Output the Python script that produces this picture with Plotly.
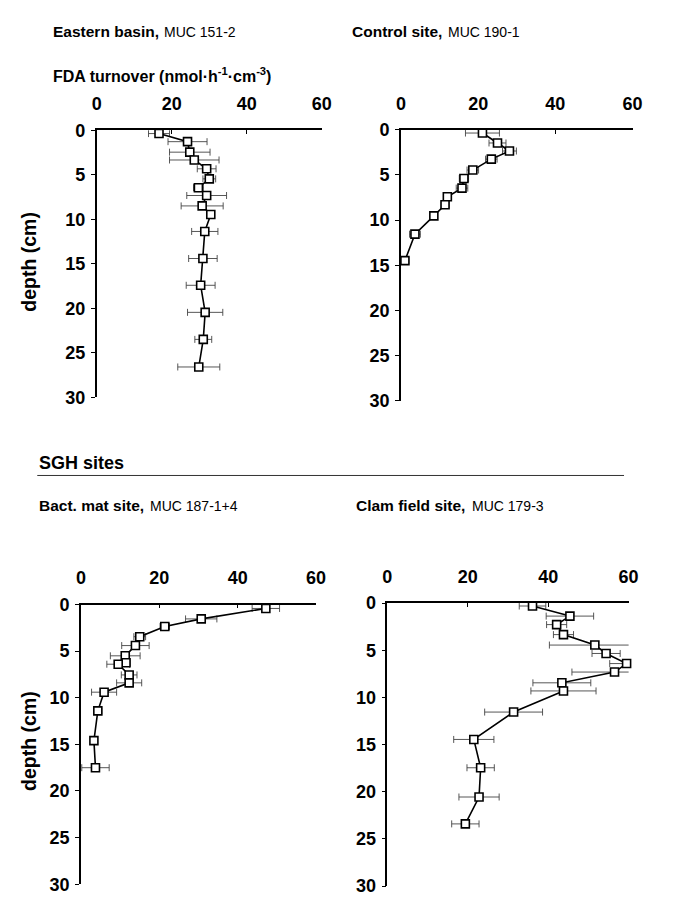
import plotly.graph_objects as go

W, H = 679, 904

# ---------------- data ----------------
depth_eb = [0.37, 1.28, 2.46, 3.34, 4.33, 5.46, 6.45, 7.33, 8.5, 9.46, 11.37, 14.41, 17.42, 20.46, 23.5, 26.6]
fda_eb = [16.6, 24.2, 24.8, 26.0, 29.3, 30.0, 27.1, 29.3, 28.1, 30.4, 28.8, 28.3, 27.7, 28.9, 28.4, 27.2]
err_eb = [2.8, 5.2, 5.4, 6.6, 2.5, 1.7, 1.3, 5.3, 5.6, 1.0, 3.5, 3.8, 3.85, 4.7, 2.25, 5.6]

depth_cs = [0.36, 1.46, 2.35, 3.25, 4.46, 5.39, 6.46, 7.42, 8.31, 9.53, 11.56, 14.49]
fda_cs = [21.1, 25.0, 28.1, 23.4, 18.6, 16.3, 15.8, 12.0, 11.4, 8.5, 3.6, 1.0]
err_cs = [4.4, 2.2, 1.8, 1.5, 1.5, 1.2, 1.5, 1.0, 1.0, 0.8, 1.4, 1.0]

depth_bm = [0.42, 1.54, 2.35, 3.45, 4.4, 5.5, 6.25, 6.4, 7.55, 8.4, 9.4, 11.4, 14.6, 17.5]
fda_bm = [47.2, 30.7, 21.4, 15.0, 13.9, 11.3, 11.5, 9.5, 12.3, 12.3, 5.9, 4.3, 3.3, 3.7]
err_bm = [3.5, 4.0, 1.2, 1.5, 3.5, 3.8, 1.0, 2.9, 2.0, 3.2, 3.2, 1.0, 0.8, 3.5]

depth_cf = [0.31, 1.38, 2.28, 3.34, 4.45, 5.34, 6.41, 7.31, 8.45, 9.31, 11.55, 14.45, 17.45, 20.55, 23.4]
fda_cf = [36.1, 45.4, 42.1, 43.8, 51.6, 54.4, 59.5, 56.5, 43.4, 43.8, 31.4, 21.5, 23.2, 22.8, 19.4]
err_cf = [3.3, 5.9, 2.5, 2.5, 11.3, 3.5, 4.2, 10.6, 7.2, 8.1, 7.2, 5.0, 3.4, 5.0, 3.4]

x_ticks = [0, 20, 40, 60]
y_ticks = [0, 5, 10, 15, 20, 25, 30]

site_names = ["Eastern basin,", "Control site,", "Bact. mat site,", "Clam field site,"]
core_ids = ["MUC 151-2", "MUC 190-1", "MUC 187-1+4", "MUC 179-3"]

# ---------------- layout helpers ----------------
# panel pixel boxes: (x0, x1, ytop, ybottom)
panels = [
    (93.8, 324.0, 123.0, 396.0),
    (405.0, 641.7, 122.5, 399.5),
    (77.7, 318.0, 608.0, 894.0),
    (391.0, 637.7, 606.5, 896.0),
]
series = [
    (fda_eb, depth_eb, err_eb),
    (fda_cs, depth_cs, err_cs),
    (fda_bm, depth_bm, err_bm),
    (fda_cf, depth_cf, err_cf),
]

FONT = "Liberation Sans, Arial, Helvetica, sans-serif"

fig = go.Figure()
layout = {}
for i, ((x0, x1, yt, yb), (xs, ys, es)) in enumerate(zip(panels, series), start=1):
    sfx = "" if i == 1 else str(i)
    fig.add_trace(go.Scatter(
        x=xs, y=ys, mode="lines+markers",
        xaxis="x" + sfx, yaxis="y" + sfx,
        line=dict(color="black", width=1.6),
        marker=dict(symbol="square", size=8, color="white",
                    line=dict(color="black", width=1.6)),
        error_x=dict(type="data", array=es, visible=True,
                     color="#444444", thickness=0.9, width=3.5),
        cliponaxis=False, showlegend=False, hoverinfo="skip",
    ))
    layout["xaxis" + sfx] = dict(
        domain=[x0 / W, x1 / W], anchor="y" + sfx, side="top",
        range=[0, 60], tickvals=x_ticks, ticktext=[str(v) for v in x_ticks],
        showgrid=False, zeroline=False, showline=True,
        linecolor="black", linewidth=1.7,
        ticks="inside", ticklen=4, tickwidth=1.3, tickcolor="black",
        tickfont=dict(family=FONT, size=18, color="black", weight="bold"),
        ticklabelstandoff=11,
    )
    layout["yaxis" + sfx] = dict(
        domain=[1 - yb / H, 1 - yt / H], anchor="x" + sfx,
        range=[30, 0], tickvals=y_ticks, ticktext=[str(v) for v in y_ticks],
        showgrid=False, zeroline=False, showline=True,
        linecolor="black", linewidth=1.7,
        ticks="outside", ticklen=4, tickwidth=1.3, tickcolor="black",
        tickfont=dict(family=FONT, size=18, color="black", weight="bold"),
        ticklabelstandoff=2,
    )


def ann(text, px, py, size, anchor="left", angle=0, weight="normal"):
    return dict(text=text, x=px / W, y=1 - py / H, xref="paper", yref="paper",
                xanchor=anchor, yanchor="middle", showarrow=False,
                textangle=angle,
                font=dict(family=FONT, size=size, color="black", weight=weight))


# (name x, id x, y) for each panel title
title_pos = [(47, 161, 22), (353, 451, 22), (33, 146, 507), (357, 475, 507)]
annotations = []
for name, cid, (xn, xi, yy) in zip(site_names, core_ids, title_pos):
    annotations.append(ann(name, xn, yy, 15.5, weight="bold"))
    annotations.append(ann(cid, xi, yy + 0.5, 14))

annotations += [
    ann("FDA turnover (nmol·h<sup>-1</sup>·cm<sup>-3</sup>)", 47, 66, 16, weight="bold"),
    ann("SGH sites", 33, 463, 18, weight="bold"),
    ann("depth (cm)", 25, 257, 19.5, anchor="center", angle=-90, weight="bold"),
    ann("depth (cm)", 25, 747, 19.5, anchor="center", angle=-90, weight="bold"),
]

fig.update_layout(
    width=W, height=H,
    margin=dict(l=0, r=0, t=0, b=0),
    paper_bgcolor="white", plot_bgcolor="white",
    annotations=annotations,
    shapes=[dict(type="line", xref="paper", yref="paper",
                 x0=33 / W, x1=633 / W, y0=1 - 476 / H, y1=1 - 476 / H,
                 line=dict(color="#333333", width=1))],
    **layout,
)

fig.write_html(
    "out.html",
    config={"displayModeBar": False},
    post_script="document.body.style.margin='0px';"
                "document.documentElement.style.overflow='hidden';",
)
